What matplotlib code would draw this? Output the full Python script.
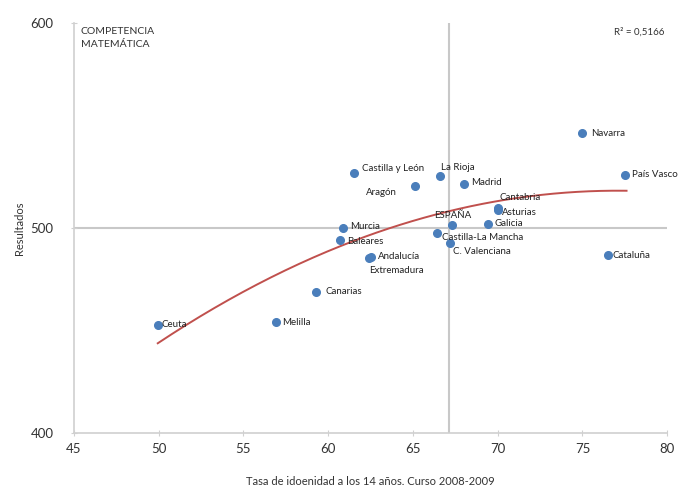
import numpy as np
import matplotlib
matplotlib.use("Agg")
import matplotlib.pyplot as plt

plt.rcParams['font.family'] = ['Lato', 'DejaVu Sans']

regions = ["Ceuta", "Melilla", "Canarias", "Murcia", "Baleares", "Andalucía",
           "Extremadura", "Castilla y León", "Aragón", "La Rioja", "Madrid",
           "Cantabria", "Asturias", "Galicia", "ESPAÑA", "Castilla-La Mancha",
           "C. Valenciana", "Navarra", "País Vasco", "Cataluña"]
idoneidad = [49.95, 56.9, 59.3, 60.9, 60.7, 62.5, 62.4, 61.5, 65.1, 66.6, 68.0,
             70.0, 70.0, 69.4, 67.3, 66.4, 67.2, 75.0, 77.5, 76.5]
resultados = [452.7, 454.1, 468.8, 500.0, 494.0, 485.9, 485.4, 526.8, 520.5, 525.4,
              521.5, 509.5, 509.0, 502.0, 501.5, 497.5, 492.5, 546.3, 525.9, 486.8]
# label offsets in points (dx, dy)
offsets = [(3, 0), (5, 0), (7, 0), (5, 1), (5, -1), (5, 0),
           (0, -9), (6, 3), (-35, -5), (1, 6), (5, 1),
           (1, 8), (3, -2), (5, 0), (-13, 7), (4, -3),
           (2, -6), (6, 0), (5, 0), (3, 0)]

trend_x = [49.95, 77.6]

fig = plt.figure(figsize=(6.9, 4.98), dpi=100)
ax = fig.add_axes([0.107, 0.1305, 0.86, 0.8235])

ax.axhline(500, color="#c8c8c8", lw=1.5, zorder=1)
ax.axvline(67.1, color="#c8c8c8", lw=1.5, zorder=1)

ax.plot(idoneidad, resultados, "o", color="#4a7ebb", ms=5.5, zorder=3)

mask = [r != "ESPAÑA" for r in regions]
xs = np.array(idoneidad)[mask]
ys = np.array(resultados)[mask]
coef = np.polyfit(xs, ys, 2)
tx = np.linspace(trend_x[0], trend_x[1], 200)
ax.plot(tx, np.polyval(coef, tx), color="#c0504d", lw=1.4, zorder=2)

for name, x, y, (dx, dy) in zip(regions, idoneidad, resultados, offsets):
    ax.annotate(name, (x, y), xytext=(dx, dy), textcoords="offset points",
                fontsize=7, color="#222222", va="center", ha="left", zorder=4)

ax.set_xlim(45, 80)
ax.set_ylim(400, 600)
ax.set_xticks(range(45, 81, 5))
ax.set_yticks([400, 500, 600])
for s in ["top", "right"]:
    ax.spines[s].set_visible(False)
for s in ["left", "bottom"]:
    ax.spines[s].set_color("#d0d0d0")
    ax.spines[s].set_linewidth(1.2)
ax.tick_params(axis="both", colors="#d0d0d0", labelcolor="#333333",
               labelsize=9.5, direction="inout", length=5)
ax.tick_params(axis="y", pad=12)
ax.tick_params(axis="x", pad=5)

ax.set_xlabel("Tasa de idoenidad a los 14 años. Curso 2008-2009", fontsize=8,
              color="#333333", labelpad=15)
ax.set_ylabel("Resultados", fontsize=8, color="#333333", labelpad=4)

ax.text(0.012, 0.99, "COMPETENCIA\nMATEMÁTICA", transform=ax.transAxes,
        fontsize=7.5, color="#333333", va="top", ha="left", linespacing=1.5)
ax.text(0.995, 0.99, "R² = 0,5166", transform=ax.transAxes,
        fontsize=7, color="#333333", va="top", ha="right")

fig.savefig("out.png", dpi=100)
